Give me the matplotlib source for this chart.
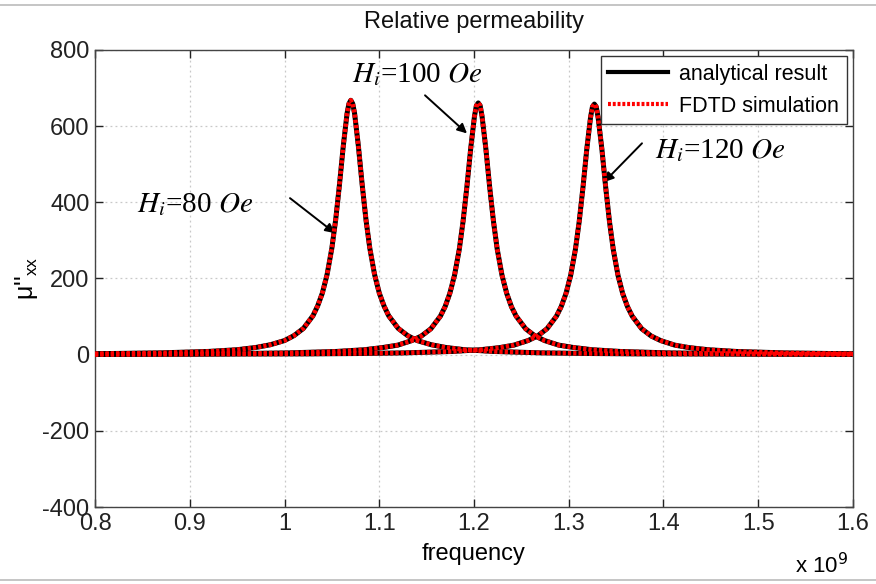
import matplotlib
matplotlib.use("Agg")
import matplotlib.pyplot as plt
from matplotlib.lines import Line2D

plt.rcParams['font.family'] = ['Liberation Sans', 'DejaVu Sans']
plt.rcParams['axes.unicode_minus'] = False

# frequency in units of 1e9 Hz
f80 = [0.800, 0.820, 0.870, 0.920, 0.950, 0.970, 0.985, 1.000, 1.010, 1.020,
       1.030, 1.035, 1.040, 1.045, 1.050, 1.054, 1.058, 1.062, 1.066, 1.068,
       1.070, 1.072, 1.074, 1.078, 1.082, 1.086, 1.090, 1.095, 1.100, 1.105,
       1.110, 1.120, 1.130, 1.140, 1.155, 1.170, 1.190, 1.220, 1.270, 1.320,
       1.370, 1.600]
mu80 = [2.6, 3.1, 4.8, 8.5, 13, 19, 26, 37, 50, 69,
        102, 128, 162, 211, 280, 354, 446, 547, 633, 659,
        668, 659, 633, 547, 446, 354, 280, 211, 162, 128,
        102, 69, 50, 37, 26, 19, 13, 8.5, 4.8, 3.1,
        2.1, 0.7]

f100 = [0.800, 0.9045, 0.9545, 1.0045, 1.0545, 1.0845, 1.1045, 1.1195, 1.1345, 1.1445,
        1.1545, 1.1645, 1.1695, 1.1745, 1.1795, 1.1845, 1.1885, 1.1925, 1.1965, 1.2005,
        1.2025, 1.2045, 1.2065, 1.2085, 1.2125, 1.2165, 1.2205, 1.2245, 1.2295, 1.2345,
        1.2395, 1.2445, 1.2545, 1.2645, 1.2745, 1.2895, 1.3045, 1.3245, 1.3545, 1.4045,
        1.4545, 1.5045, 1.600]
mu100 = [1.2, 2.1, 3.0, 4.7, 8.4, 13, 19, 25, 37, 49,
         68, 101, 126, 161, 209, 277, 351, 441, 541, 626,
         654, 661, 654, 626, 541, 441, 351, 277, 209, 161,
         126, 101, 68, 49, 37, 25, 19, 13, 8.4, 4.7,
         3.0, 2.1, 1.2]

f120 = [0.800, 1.027, 1.077, 1.127, 1.177, 1.207, 1.227, 1.242, 1.257, 1.267,
        1.277, 1.287, 1.292, 1.297, 1.302, 1.307, 1.311, 1.315, 1.319, 1.323,
        1.325, 1.327, 1.329, 1.331, 1.335, 1.339, 1.343, 1.347, 1.352, 1.357,
        1.362, 1.367, 1.377, 1.387, 1.397, 1.412, 1.427, 1.447, 1.477, 1.527,
        1.577, 1.600]
mu120 = [0.7, 2.1, 3.0, 4.7, 8.4, 13, 18.5, 25, 37, 49,
         68, 101, 126, 160, 208, 276, 349, 439, 539, 623,
         651, 658, 651, 623, 539, 439, 349, 276, 208, 160,
         126, 101, 68, 49, 37, 25, 18.5, 13, 8.4, 4.7,
         3.0, 2.5]

series = [(f80, mu80), (f100, mu100), (f120, mu120)]

xticks = [0.8, 0.9, 1.0, 1.1, 1.2, 1.3, 1.4, 1.5, 1.6]
xticklabels = ['0.8', '0.9', '1', '1.1', '1.2', '1.3', '1.4', '1.5', '1.6']
yticks = [-400, -200, 0, 200, 400, 600, 800]

fig = plt.figure(figsize=(8.76, 5.84), dpi=100)
ax = fig.add_axes([95/876, 1-507/584, (853-95)/876, (507-50)/584])

red_style = (0, (0.7, 0.45))
for f, m in series:
    ax.plot(f, m, color='black', lw=3.6, solid_joinstyle='round', zorder=3)
    ax.plot(f, m, color='#ff0000', lw=3.3, linestyle=red_style, zorder=4)

ax.set_xlim(0.8, 1.6)
ax.set_ylim(-400, 800)
ax.set_xticks(xticks)
ax.set_xticklabels(xticklabels)
ax.set_yticks(yticks)
ax.tick_params(direction='in', length=6, width=1, top=True, right=True,
               labelsize=17, colors='#222222', pad=4)
ax.grid(True, color='#c8c8c8', linestyle=(0, (1.5, 2.5)), lw=0.9)
for s in ax.spines.values():
    s.set_color('#444444')
    s.set_linewidth(1.0)

ax.set_title('Relative permeability', fontsize=17, pad=16, color='#111111')
ax.set_xlabel('frequency', fontsize=17, labelpad=6)
ax.set_ylabel(r"μ''$_{\mathregular{xx}}$", fontsize=18, labelpad=2)
fig.text(795/876, 1-578/584, r'x 10$^9$', fontsize=16, ha='left', va='bottom')

handles = [Line2D([], [], color='black', lw=3),
           Line2D([], [], color='#ff0000', lw=3, linestyle=red_style)]
leg = ax.legend(handles, ['analytical result', 'FDTD simulation'],
                loc='upper right', bbox_to_anchor=(1.0, 1.0), fontsize=15.5,
                fancybox=False, edgecolor='#333333', framealpha=1,
                handlelength=2.8, borderpad=0.35, labelspacing=0.5,
                handletextpad=0.5, borderaxespad=0.3)
leg.get_frame().set_linewidth(1.0)

ann_kw = dict(fontsize=21, family='Liberation Serif', math_fontfamily='stix',
              ha='left', va='center')
arrow = dict(arrowstyle='-|>', color='black', lw=1.4, mutation_scale=14,
             shrinkA=0, shrinkB=0)
ax.text(0.8443, 393, r'$H_i$=80 $Oe$', **ann_kw)
ax.annotate('', xy=(1.0533, 319), xytext=(1.0058, 411), arrowprops=arrow)
ax.text(1.0712, 734, r'$H_i$=100 $Oe$', **ann_kw)
ax.annotate('', xy=(1.1926, 581), xytext=(1.1483, 681), arrowprops=arrow)
ax.text(1.391, 537, r'$H_i$=120 $Oe$', **ann_kw)
ax.annotate('', xy=(1.3372, 453), xytext=(1.3773, 555), arrowprops=arrow)

fig.add_artist(Line2D([0, 1], [1-5/584, 1-5/584], color='#bbbbbb', lw=1.2))
fig.add_artist(Line2D([0, 1], [1-580/584, 1-580/584], color='#bbbbbb', lw=1.2))

fig.savefig('out.png', dpi=100)
